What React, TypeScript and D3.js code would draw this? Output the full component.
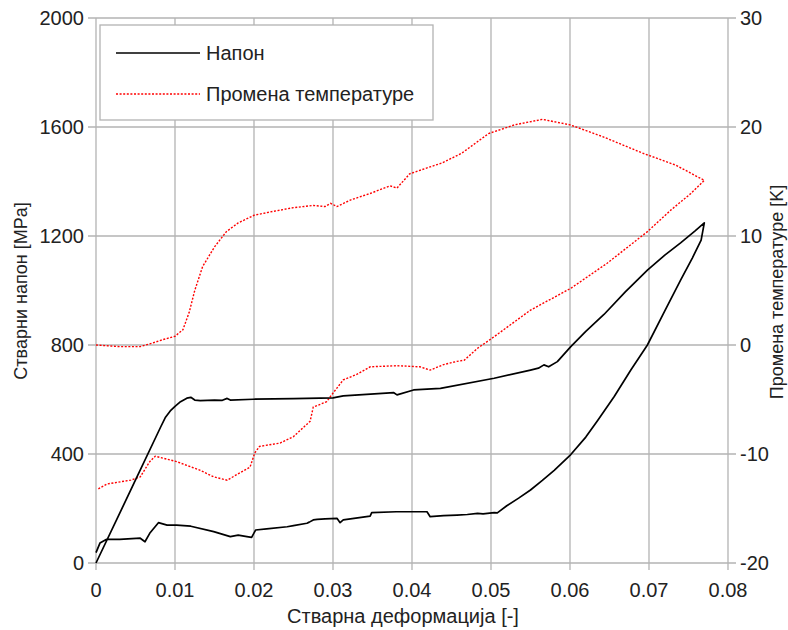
import React from "react";
import * as d3 from "d3";

const xTicks = [0, 0.01, 0.02, 0.03, 0.04, 0.05, 0.06, 0.07, 0.08];
const yLeftTicks = [0, 400, 800, 1200, 1600, 2000];
const yRightTicks = [-20, -10, 0, 10, 20, 30];

// Напон (stress) – loading then unloading
const stressStrain = [
  0, 0.0046, 0.0082, 0.0088, 0.0094, 0.01, 0.0107, 0.0115, 0.012, 0.0125, 0.0132, 0.015, 0.016, 0.0166, 0.017,
  0.0199, 0.025, 0.03, 0.0313, 0.0377, 0.0381, 0.0402, 0.0436, 0.0504, 0.055, 0.056, 0.0567, 0.0573, 0.0584,
  0.0601, 0.062, 0.0643, 0.067, 0.0698, 0.072, 0.074, 0.0758, 0.077,
  0.0766, 0.0755, 0.074, 0.072, 0.0698, 0.0677, 0.0656, 0.0635, 0.062, 0.0601, 0.058, 0.0565, 0.055, 0.0535,
  0.052, 0.0508, 0.0504, 0.049, 0.0483, 0.047, 0.0457, 0.044, 0.0423, 0.0419, 0.038, 0.0349, 0.0347, 0.0313,
  0.0309, 0.0305, 0.029, 0.028, 0.0275, 0.027, 0.0267, 0.025, 0.0242, 0.0216, 0.0202, 0.0197, 0.0191, 0.018,
  0.017, 0.0149, 0.012, 0.0102, 0.009, 0.0079, 0.0068, 0.0062, 0.0056, 0.003, 0.00135, 0.0005, 0,
];
const stressValues = [
  0, 280, 500, 535, 558, 575, 592, 605, 608, 598, 596, 598, 597, 604, 598,
  601, 603, 606, 613, 625, 617, 635, 641, 678, 708, 715, 727, 720, 739,
  794, 850, 912, 995, 1075, 1130, 1175, 1218, 1248,
  1185, 1120, 1038, 925, 800, 708, 611, 523, 462, 398, 340, 303, 268, 238,
  210, 184, 185, 180, 182, 178, 176, 174, 170, 188, 188, 185, 172, 158,
  148, 164, 162, 160, 158, 150, 146, 137, 133, 125, 121, 94, 97, 102,
  97, 115, 135, 139, 139, 148, 109, 78, 91, 87, 87, 73, 38,
];

// Промена температуре (temperature change) – loading then unloading
const tempStrain = [
  0, 0.003, 0.0056, 0.0068, 0.0085, 0.01, 0.011, 0.0118, 0.0125, 0.0135, 0.015, 0.0165, 0.018, 0.02, 0.022,
  0.025, 0.0275, 0.029, 0.0297, 0.0305, 0.0322, 0.0347, 0.0372, 0.0381, 0.0397, 0.0413, 0.0438, 0.0463, 0.0497,
  0.053, 0.0565, 0.06, 0.0642, 0.0692, 0.0734, 0.077,
  0.0753, 0.0728, 0.0698, 0.0647, 0.0601, 0.055, 0.0504, 0.0483, 0.0466, 0.0457, 0.044, 0.0423, 0.041, 0.0381,
  0.0347, 0.033, 0.0313, 0.0297, 0.0292, 0.0275, 0.0271, 0.025, 0.0233, 0.0207, 0.0201, 0.0195, 0.0178, 0.0166,
  0.0149, 0.0132, 0.0102, 0.0075, 0.0068, 0.0056, 0.0044, 0.0014, 0.0003,
];
const tempValues = [
  0, -0.15, -0.15, 0.1, 0.5, 0.8, 1.4, 3.0, 5.0, 7.2, 9.0, 10.4, 11.2, 11.9, 12.2,
  12.6, 12.8, 12.7, 13.0, 12.7, 13.3, 13.9, 14.6, 14.4, 15.7, 16.1, 16.7, 17.6, 19.4,
  20.2, 20.7, 20.2, 19.1, 17.6, 16.5, 15.1,
  13.9, 12.4, 10.4, 7.5, 5.2, 3.2, 0.76, -0.3, -1.4, -1.5, -1.8, -2.3, -2.0, -1.9,
  -2.0, -2.7, -3.2, -4.7, -5.2, -5.7, -7.0, -8.4, -9.0, -9.3, -9.9, -11.2, -11.9, -12.4,
  -12.1, -11.5, -10.7, -10.2, -10.7, -12.1, -12.4, -12.75, -13.2,
];

const legendLabels = ["Напон", "Промена температуре"];
const xTitle = "Стварна деформација [-]";
const yLeftTitle = "Стварни напон [MPa]";
const yRightTitle = "Промена температуре [K]";

const W = 788;
const H = 630;
const M = { left: 96, right: 728, top: 18, bottom: 563 };
const FONT = "'Liberation Sans', Arial, sans-serif";
const TEXT = "#222";
const GRID = "#b3b3b3";

export default function App() {
  const x = d3.scaleLinear().domain([0, 0.08]).range([M.left, M.right]);
  const yL = d3.scaleLinear().domain([0, 2000]).range([M.bottom, M.top]);
  const yR = d3.scaleLinear().domain([-20, 30]).range([M.bottom, M.top]);

  const stressLine = d3
    .line<number>()
    .x((_, i) => x(stressStrain[i]))
    .y((d) => yL(d))(stressValues) as string;
  const tempLine = d3
    .line<number>()
    .x((_, i) => x(tempStrain[i]))
    .y((d) => yR(d))(tempValues) as string;

  return (
    <svg
      width={W}
      height={H}
      style={{ position: "absolute", left: 0, top: 0, background: "#fff" }}
      fontFamily={FONT}
    >
      <rect x={0} y={0} width={W} height={H} fill="#fff" />
      {/* grid */}
      {xTicks.map((t) => (
        <line key={"gx" + t} x1={x(t)} x2={x(t)} y1={M.top} y2={M.bottom + 7} stroke={GRID} strokeWidth={1.3} />
      ))}
      {yLeftTicks.map((t) => (
        <line key={"gy" + t} x1={M.left - 8} x2={M.right + 8} y1={yL(t)} y2={yL(t)} stroke={GRID} strokeWidth={1.3} />
      ))}
      {/* tick labels */}
      {xTicks.map((t) => (
        <text key={"tx" + t} x={x(t)} y={597} textAnchor="middle" fontSize={20} fill={TEXT}>
          {t === 0 ? "0" : d3.format(".2f")(t)}
        </text>
      ))}
      {yLeftTicks.map((t) => (
        <text key={"tyl" + t} x={84} y={yL(t)} dy="0.35em" textAnchor="end" fontSize={20} fill={TEXT}>
          {t}
        </text>
      ))}
      {yRightTicks.map((t) => (
        <text key={"tyr" + t} x={740} y={yR(t)} dy="0.35em" textAnchor="start" fontSize={20} fill={TEXT}>
          {t}
        </text>
      ))}
      {/* axis titles */}
      <text x={403} y={623} textAnchor="middle" fontSize={20} fill={TEXT}>
        {xTitle}
      </text>
      <text transform={`translate(27,291) rotate(-90)`} textAnchor="middle" fontSize={18} fill={TEXT}>
        {yLeftTitle}
      </text>
      <text transform={`translate(783,292) rotate(-90)`} textAnchor="middle" fontSize={18} fill={TEXT}>
        {yRightTitle}
      </text>
      {/* data */}
      <path d={tempLine} fill="none" stroke="#ff0000" strokeWidth={1.4} strokeDasharray="2 1.6" />
      <path d={stressLine} fill="none" stroke="#000" strokeWidth={1.7} strokeLinejoin="round" />
      {/* legend */}
      <rect x={100} y={25} width={333} height={95} fill="#fff" stroke={GRID} strokeWidth={1.3} />
      <line x1={116} x2={200} y1={53} y2={53} stroke="#000" strokeWidth={1.7} />
      <text x={206} y={53} dy="0.35em" fontSize={20} fill={TEXT}>
        {legendLabels[0]}
      </text>
      <line x1={116} x2={200} y1={94} y2={94} stroke="#ff0000" strokeWidth={1.4} strokeDasharray="2 1.6" />
      <text x={206} y={94} dy="0.35em" fontSize={20} fill={TEXT}>
        {legendLabels[1]}
      </text>
    </svg>
  );
}
